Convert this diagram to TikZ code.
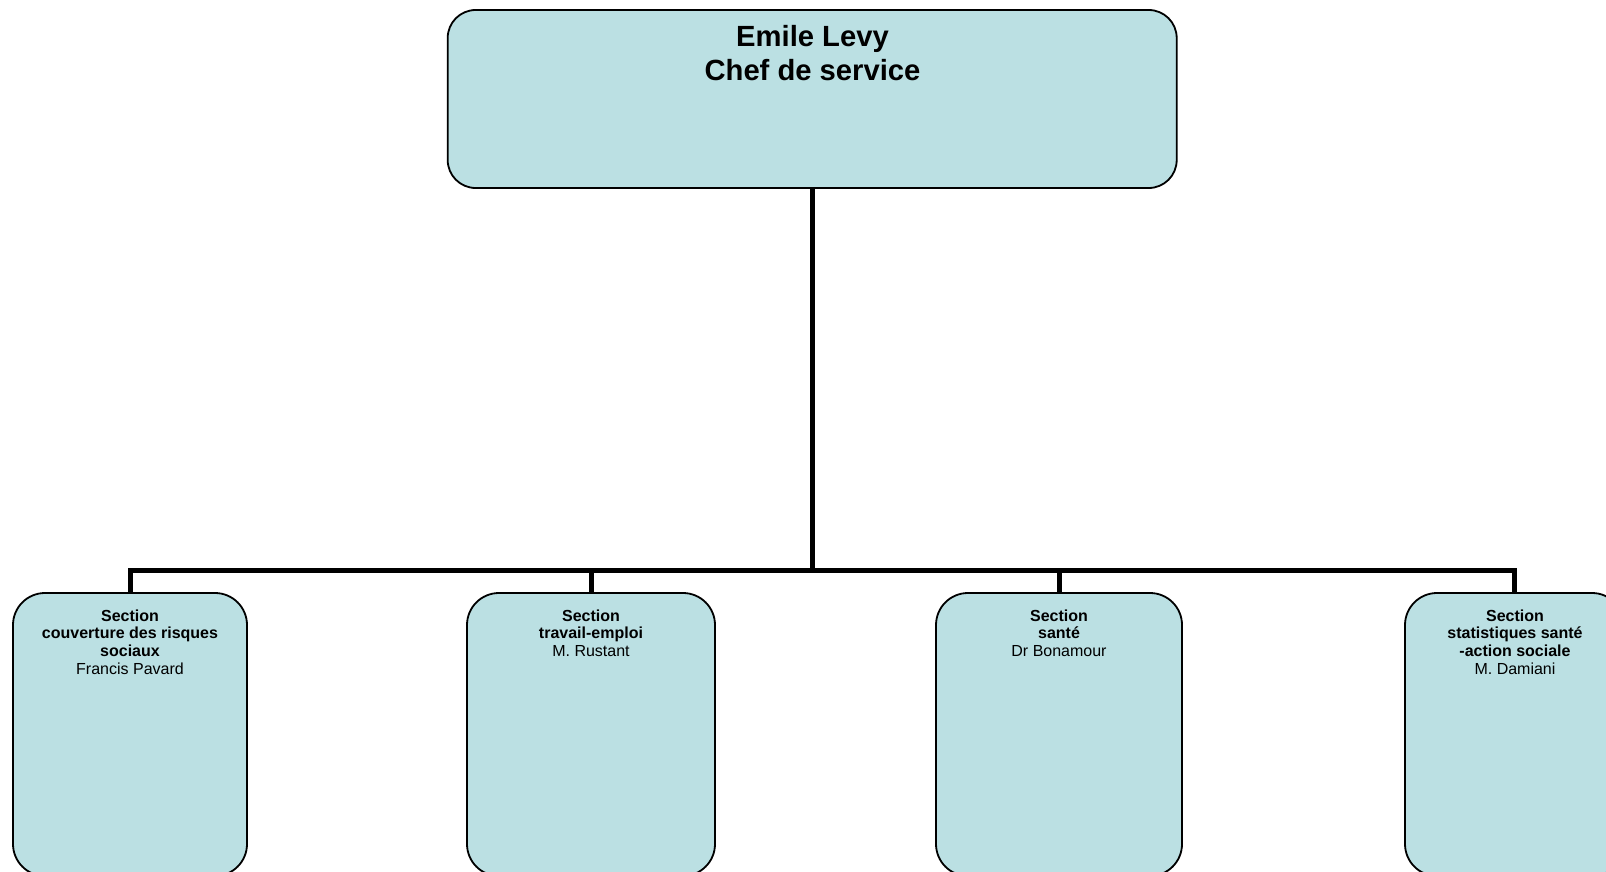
\documentclass[tikz,border=0pt]{standalone}
\usepackage{fontspec}
\setmainfont{Liberation Sans}
\definecolor{boxfill}{RGB}{187,224,227}
\begin{document}
\begin{tikzpicture}[x=1pt,y=-1pt,
  orgbox/.style={draw=black, line width=1.8pt, fill=boxfill, rounded corners=32pt, inner sep=0pt},
  headbox/.style={orgbox, rounded corners=28pt},
  conn/.style={draw=black, line width=5pt},
  headtxt/.style={font=\fontsize{29.2}{34.3}\selectfont\bfseries, align=center, inner sep=0pt, anchor=north},
  sectxt/.style={font=\fontsize{16}{17.8}\selectfont, align=center, inner sep=0pt, anchor=north}]
\useasboundingbox (0,0) rectangle (1606,872);
\clip (0,0) rectangle (1606,872);
\coordinate (bar) at (812,570.5);
\node[headbox, minimum width=729pt, minimum height=178pt] (top) at (812.2,99) {};
\node[orgbox, minimum width=234pt, minimum height=283pt] (b1) at (130,734.5) {};
\node[orgbox, minimum width=248pt, minimum height=283pt] (b2) at (591,734.5) {};
\node[orgbox, minimum width=246pt, minimum height=283pt] (b3) at (1059,734.5) {};
\node[orgbox, minimum width=219pt, minimum height=283pt] (b4) at (1514.5,734.5) {};
\draw[conn] (top.south) -- (top.south |- bar) -| (b1.north);
\draw[conn] (top.south |- bar) -| (b2.north);
\draw[conn] (top.south |- bar) -| (b3.north);
\draw[conn] (top.south |- bar) -| (b4.north);
\node[headtxt] (toptxt) at (812.5,25.3) {Emile Levy\\Chef de service};
\node[sectxt] (t1) at (130,609.3) {\textbf{Section}\\\textbf{couverture des risques}\\\textbf{sociaux}\\Francis Pavard};
\node[sectxt] (t2) at (591,609.3) {\textbf{Section}\\\textbf{travail-emploi}\\M. Rustant};
\node[sectxt] (t3) at (1059,609.3) {\textbf{Section}\\\textbf{santé}\\Dr Bonamour};
\node[sectxt] (t4) at (1515,609.3) {\textbf{Section}\\\textbf{statistiques santé}\\\textbf{-action sociale}\\M. Damiani};
\end{tikzpicture}
\end{document}
